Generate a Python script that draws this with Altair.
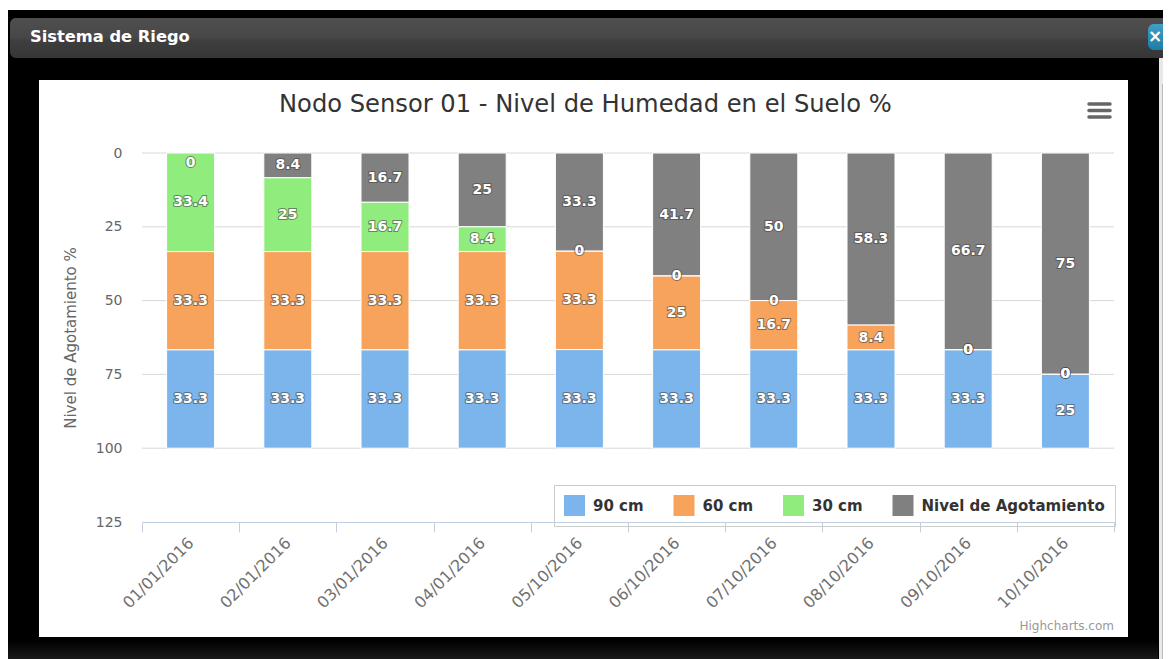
import altair as alt
import pandas as pd

dates = ["01/01/2016", "02/01/2016", "03/01/2016", "04/01/2016", "05/10/2016",
         "06/10/2016", "07/10/2016", "08/10/2016", "09/10/2016", "10/10/2016"]
series_names = ["90 cm", "60 cm", "30 cm", "Nivel de Agotamiento"]
series_colors = ["#7cb5ec", "#f7a35c", "#90ed7d", "#808080"]
agotamiento = [0, 8.4, 16.7, 25, 33.3, 41.7, 50, 58.3, 66.7, 75]
cm30 = [33.4, 25, 16.7, 8.4, 0, 0, 0, None, 0, 0]
cm60 = [33.3, 33.3, 33.3, 33.3, 33.3, 25, 16.7, 8.4, 0, 0]
cm90 = [33.3, 33.3, 33.3, 33.3, 33.3, 33.3, 33.3, 33.3, 33.3, 25]
y_ticks = [0, 25, 50, 75, 100, 125]
grid_values = [0, 25, 50, 75, 100]

FONT = "DejaVu Sans"

rows = []
for order, (name, vals) in enumerate([("Nivel de Agotamiento", agotamiento), ("30 cm", cm30),
                                      ("60 cm", cm60), ("90 cm", cm90)]):
    for d, v in zip(dates, vals):
        if v is not None:
            rows.append({"date": d, "serie": name, "valor": v, "orden": order})
df = pd.DataFrame(rows)
one = pd.DataFrame({"a": [0]})

x_scale = alt.Scale(domain=dates, paddingInner=0, paddingOuter=0)
y_scale = alt.Scale(domain=[0, 125], reverse=True, nice=False, zero=False)

def box(x, x2, y, y2, fill, **kw):
    return alt.Chart(one).mark_rect(fill=fill, **kw).encode(
        x=alt.value(x), x2=alt.value(x2), y=alt.value(y), y2=alt.value(y2))

def grad(stops):
    return alt.LinearGradient(gradient="linear", x1=0, x2=0, y1=0, y2=1,
                              stops=[alt.GradientStop(offset=o, color=c) for o, c in stops])

OX, OY = 142, 153  # plot origin in the picture

chrome = [
    box(-OX + 8, 1171 - OX, 10 - OY, 659 - OY, "#000000"),
    box(10 - OX, 1190 - OX, 18 - OY, 58 - OY,
        grad([(0, "#4f4f4f"), (0.5, "#474747"), (0.55, "#3f3f3f"), (1, "#363636")]),
        cornerRadius=6),
    box(8 - OX, 1158 - OX, 640 - OY, 659 - OY, grad([(0, "#000000"), (1, "#1a1a1a")])),
    box(39 - OX, 1128 - OX, 80 - OY, 637 - OY, "#ffffff"),
    box(1159 - OX, 1171 - OX, 58 - OY, 659 - OY, "#e8e8e8"),
    box(1162 - OX, 1171 - OX, 84 - OY, 659 - OY, "#bdbdbd"),
    box(1148 - OX, 1180 - OX, 24 - OY, 50 - OY,
        grad([(0, "#3f9fc6"), (1, "#1c7da6")]), cornerRadius=6),
]
close_txt = alt.Chart(one).mark_text(text="×", font=FONT, fontSize=17, fontWeight="bold",
                                     color="#ffffff").encode(x=alt.value(1155 - OX), y=alt.value(37 - OY))
window_title = alt.Chart(one).mark_text(text="Sistema de Riego", font=FONT, fontSize=16.3, fontWeight="bold",
                                        color="#ffffff", align="left").encode(
    x=alt.value(30 - OX), y=alt.value(37 - OY))
chart_title = alt.Chart(one).mark_text(text="Nodo Sensor 01 - Nivel de Humedad en el Suelo %", font=FONT,
                                       fontSize=24.2, color="#333333", align="left").encode(
    x=alt.value(279 - OX), y=alt.value(105 - OY))
credit = alt.Chart(one).mark_text(text="Highcharts.com", font=FONT, fontSize=12, color="#999999",
                                  align="right").encode(x=alt.value(1114 - OX), y=alt.value(626 - OY))
menu = [
    alt.Chart(one).mark_rule(color="#666666", strokeWidth=3.5, strokeCap="round").encode(
        x=alt.value(1089 - OX), x2=alt.value(1110 - OX), y=alt.value(yy - OY))
    for yy in (104, 110.5, 117)
]

y_axis = alt.Axis(values=y_ticks, domain=False, ticks=False, grid=False, labelFont=FONT, labelFontSize=14,
                  labelColor="#666666", labelPadding=20, titleFont=FONT, titleFontSize=15,
                  titleFontWeight="normal", titleColor="#666666", titlePadding=17, zindex=1)

grid = alt.Chart(pd.DataFrame({"g": grid_values})).mark_rule(color="#d8d8d8", strokeWidth=1).encode(
    y=alt.Y("g:Q", scale=y_scale, axis=y_axis, title="Nivel de Agotamiento %"))

base = alt.Chart(df).transform_stack(
    stack="valor", groupby=["date"], sort=[alt.SortField("orden", order="ascending")], as_=["y0", "y1"]
).transform_calculate(mid="max((datum.y0 + datum.y1) / 2, 3.4)")

bars = base.mark_bar(size=48, stroke="#ffffff", strokeWidth=1).encode(
    x=alt.X("date:N", scale=x_scale, sort=dates, title=None,
            axis=alt.Axis(labelAngle=-45, labelAlign="right", labelBaseline="middle", labelFont=FONT, labelFontSize=16,
                          labelColor="#707070", tickBand="extent", tickColor="#C0D0E0", tickSize=10,
                          domainColor="#C0D0E0", labelPadding=8, grid=False, zindex=1)),
    y=alt.Y("y0:Q", scale=y_scale, title="Nivel de Agotamiento %", axis=y_axis),
    y2="y1:Q",
    color=alt.Color("serie:N", scale=alt.Scale(domain=series_names, range=series_colors),
                    legend=alt.Legend(title=None, orient="none", legendX=412, legendY=332, direction="horizontal",
                                      columns=4, fillColor="#ffffff", strokeColor="#cccccc", padding=10,
                                      symbolType="square", symbolSize=441, symbolStrokeWidth=0,
                                      labelFont=FONT, labelFontSize=15, labelFontWeight="bold", labelColor="#333333",
                                      columnPadding=29.5, symbolOpacity=1, labelOffset=8, labelLimit=300)),
)

halo = base.mark_text(font=FONT, fontSize=14, fontWeight="bold", color="#444444", stroke="#444444",
                      strokeWidth=2, opacity=0.6).encode(
    x=alt.X("date:N", scale=x_scale, sort=dates), y=alt.Y("mid:Q", scale=y_scale), text=alt.Text("valor:Q"))
labels = base.mark_text(font=FONT, fontSize=14, fontWeight="bold", color="#ffffff").encode(
    x=alt.X("date:N", scale=x_scale, sort=dates), y=alt.Y("mid:Q", scale=y_scale), text=alt.Text("valor:Q"))

chart = alt.layer(*chrome, close_txt, window_title, chart_title, credit, *menu, grid, bars, halo, labels).properties(
    width=972, height=369,
    padding={"left": 134, "top": 145, "right": 49, "bottom": 137},
    autosize=alt.AutoSizeParams(type="none", contains="content"),
).configure_view(stroke=None).configure(background="#ffffff")

chart.save("out.html", embed_options={"renderer": "svg", "actions": False})
